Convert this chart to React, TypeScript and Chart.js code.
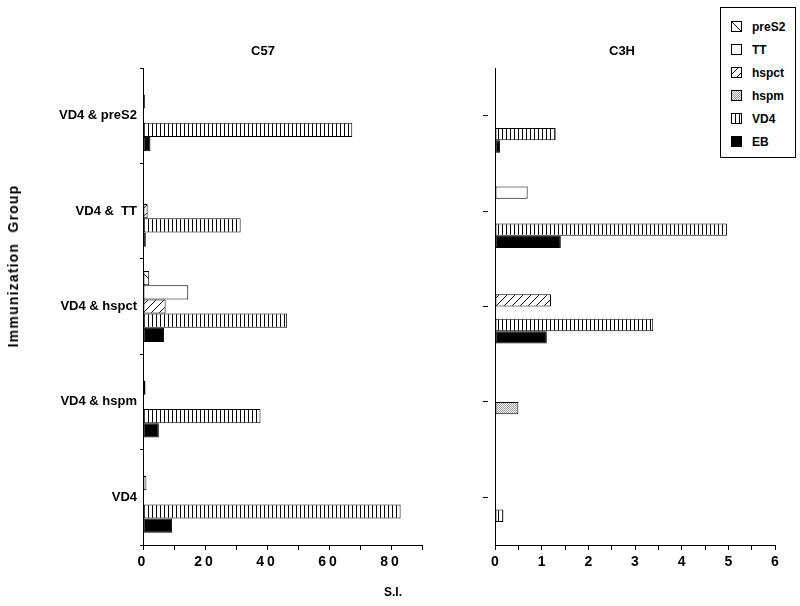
import React, { useEffect, useRef } from "react";
import { Chart, registerables } from "chart.js";
Chart.register(...registerables);

const categories = ["VD4 & preS2", "VD4 &  TT", "VD4 & hspct", "VD4 & hspm", "VD4"];
const seriesNames = ["preS2", "TT", "hspct", "hspm", "VD4", "EB"];

// C57 panel (S.I.)
const c57PreS2 = [null, 0.3, 2.0, null, null];
const c57TT = [0.6, 0.3, 14.6, 0.8, 1.1];
const c57Hspct = [null, 1.5, 7.3, null, null];
const c57VD4 = [67.5, 31.5, 46.5, 37.9, 83.1];
const c57EB = [2.4, 0.9, 6.8, 5.1, 9.4];

// C3H panel (S.I.)
const c3hPreS2 = [null, null, null, null, null];
const c3hTT = [null, 0.7, null, null, null];
const c3hHspct = [null, null, 1.2, null, null];
const c3hHspm = [null, null, null, 0.5, null];
const c3hVD4 = [1.3, 4.97, 3.39, null, 0.18];
const c3hEB = [0.11, 1.41, 1.11, null, null];

const c57Max = 90;
const c3hMax = 6;

const FONT = "'Liberation Sans', Arial, Helvetica, sans-serif";

function makeFill(kind: string, ctx: CanvasRenderingContext2D): any {
  if (kind === "TT") return "#ffffff";
  if (kind === "EB") return "#000000";
  const c = document.createElement("canvas");
  const g = c.getContext("2d")!;
  if (kind === "VD4") {
    c.width = 4; c.height = 4;
    g.fillStyle = "#fff"; g.fillRect(0, 0, 4, 4);
    g.fillStyle = "#000"; g.fillRect(0, 0, 1, 4);
  } else if (kind === "hspct") {
    c.width = 8; c.height = 8;
    g.fillStyle = "#fff"; g.fillRect(0, 0, 8, 8);
    g.strokeStyle = "#000"; g.lineWidth = 1;
    g.beginPath();
    g.moveTo(0, 8); g.lineTo(8, 0);
    g.moveTo(-1, 1); g.lineTo(1, -1);
    g.moveTo(7, 9); g.lineTo(9, 7);
    g.stroke();
  } else if (kind === "preS2") {
    c.width = 10; c.height = 10;
    g.fillStyle = "#fff"; g.fillRect(0, 0, 10, 10);
    g.strokeStyle = "#000"; g.lineWidth = 1;
    g.beginPath();
    g.moveTo(0, 0); g.lineTo(10, 10);
    g.moveTo(-1, 9); g.lineTo(1, 11);
    g.moveTo(9, -1); g.lineTo(11, 1);
    g.stroke();
  } else if (kind === "hspm") {
    c.width = 2; c.height = 2;
    g.fillStyle = "#fff"; g.fillRect(0, 0, 2, 2);
    g.fillStyle = "#9a9a9a"; g.fillRect(0, 0, 1, 1); g.fillRect(1, 1, 1, 1);
  }
  return ctx.createPattern(c, "repeat");
}

function ds(label: string, data: (number | null)[], ctx: CanvasRenderingContext2D) {
  return {
    label,
    data,
    backgroundColor: makeFill(label, ctx),
    borderColor: "#000",
    borderWidth: 1,
    borderSkipped: false,
    categoryPercentage: 1,
    barPercentage: 1,
  };
}

// letter-spaced x tick labels: x tick labels drawn after datasets (ticks.z: 1)
const spacingPlugin = {
  id: "tickSpacing",
  afterDatasetsDraw(chart: any) {
    chart.ctx.letterSpacing = "3px";
  },
  afterDraw(chart: any) {
    chart.ctx.letterSpacing = "0px";
  },
};

export default function App() {
  const leftRef = useRef<HTMLCanvasElement>(null);
  const rightRef = useRef<HTMLCanvasElement>(null);
  const swRefs = useRef<(HTMLCanvasElement | null)[]>([]);

  useEffect(() => {
    Chart.defaults.font.family = FONT;
    Chart.defaults.color = "#000";
    const lctx = leftRef.current!.getContext("2d")!;
    const rctx = rightRef.current!.getContext("2d")!;

    const left = new Chart(lctx, {
      type: "bar",
      data: {
        labels: categories,
        datasets: [
          ds("preS2", c57PreS2, lctx),
          ds("TT", c57TT, lctx),
          ds("hspct", c57Hspct, lctx),
          ds("VD4", c57VD4, lctx),
          ds("EB", c57EB, lctx),
        ].map((d) => ({ ...d, categoryPercentage: 0.745 })),
      },
      plugins: [spacingPlugin],
      options: {
        indexAxis: "y",
        responsive: false,
        animation: false,
        layout: { padding: { top: 68, right: 28, left: 0, bottom: 0 } },
        plugins: { legend: { display: false }, tooltip: { enabled: false } },
        scales: {
          x: {
            type: "linear",
            min: 0,
            max: c57Max,
            afterFit: (s: any) => { s.height = 61; },
            border: { display: true, color: "#000", width: 1 },
            grid: { drawOnChartArea: false, color: "#000", tickLength: 5 },
            ticks: {
              z: 1,
              stepSize: 10,
              autoSkip: false,
              maxRotation: 0,
              padding: 4,
              font: { size: 14, weight: "bold" },
              callback: (v: any) => (v % 20 === 0 && v < 90 ? String(v) : ""),
            },
          },
          y: {
            type: "category",
            afterFit: (s: any) => { s.width = 143; },
            border: { display: true, color: "#000", width: 1 },
            grid: { drawOnChartArea: false, color: "#000", tickLength: 3, offset: true },
            ticks: { padding: 3, font: { size: 13, weight: "bold" } },
          },
        },
      },
    } as any);

    const right = new Chart(rctx, {
      type: "bar",
      data: {
        labels: categories,
        datasets: [
          ds("preS2", c3hPreS2, rctx),
          ds("TT", c3hTT, rctx),
          ds("hspct", c3hHspct, rctx),
          ds("hspm", c3hHspm, rctx),
          ds("VD4", c3hVD4, rctx),
          ds("EB", c3hEB, rctx),
        ].map((d) => ({ ...d, categoryPercentage: 0.775 })),
      },
      options: {
        indexAxis: "y",
        responsive: false,
        animation: false,
        layout: { padding: { top: 68, right: 25, left: 0, bottom: 0 } },
        plugins: { legend: { display: false }, tooltip: { enabled: false } },
        scales: {
          x: {
            type: "linear",
            min: 0,
            max: c3hMax,
            afterFit: (s: any) => { s.height = 61; },
            border: { display: true, color: "#000", width: 1 },
            grid: { drawOnChartArea: false, color: "#000", tickLength: 5 },
            ticks: {
              stepSize: 0.5,
              autoSkip: false,
              maxRotation: 0,
              padding: 4,
              font: { size: 14, weight: "bold" },
              callback: (v: any) => (Number.isInteger(v) ? String(v) : ""),
            },
          },
          y: {
            type: "category",
            afterFit: (s: any) => { s.width = 45; },
            border: { display: true, color: "#000", width: 1 },
            grid: {
              drawOnChartArea: false,
              color: "#000",
              tickLength: 12,
              offset: false,
              tickBorderDash: [5, 100],
            },
            ticks: { display: true, callback: () => "" },
          },
        },
      },
    } as any);

    swRefs.current.forEach((c, i) => {
      if (!c) return;
      const g = c.getContext("2d")!;
      g.clearRect(0, 0, c.width, c.height);
      g.fillStyle = makeFill(seriesNames[i], g);
      g.fillRect(0, 0, c.width, c.height);
      g.strokeStyle = "#000";
      g.lineWidth = 1;
      g.strokeRect(0.5, 0.5, c.width - 1, c.height - 1);
    });

    return () => {
      left.destroy();
      right.destroy();
    };
  }, []);

  const textStyle: React.CSSProperties = {
    position: "absolute",
    fontFamily: FONT,
    fontWeight: "bold",
    color: "#000",
    whiteSpace: "pre",
    lineHeight: 1,
  };

  return (
    <div style={{ position: "absolute", left: 0, top: 0, width: 800, height: 606, background: "#fff", overflow: "hidden" }}>
      <canvas ref={leftRef} width={450} height={606} style={{ position: "absolute", left: 0, top: 0 }} />
      <canvas ref={rightRef} width={350} height={606} style={{ position: "absolute", left: 450, top: 0 }} />
      <div style={{ ...textStyle, left: 263, top: 44, fontSize: 13, transform: "translateX(-50%)" }}>C57</div>
      <div style={{ ...textStyle, left: 622, top: 44, fontSize: 13, transform: "translateX(-50%)" }}>C3H</div>
      <div style={{ ...textStyle, left: 393, top: 586, fontSize: 12, transform: "translateX(-50%)" }}>S.I.</div>
      <div
        style={{
          ...textStyle,
          left: 13,
          top: 266,
          fontSize: 14,
          letterSpacing: "1.2px",
          transform: "translate(-50%, -50%) rotate(-90deg)",
        }}
      >
        Immunization  Group
      </div>
      <div style={{ position: "absolute", left: 720, top: 7, width: 74, height: 149, border: "1px solid #000", background: "#fff" }}>
        {seriesNames.map((n, i) => (
          <div key={n} style={{ position: "absolute", left: 10, top: 13 + i * 23 }}>
            <canvas
              ref={(el) => { swRefs.current[i] = el; }}
              width={11}
              height={11}
              style={{ position: "absolute", left: 0, top: 0 }}
            />
            <div style={{ ...textStyle, left: 21, top: 0, fontSize: 12 }}>{n}</div>
          </div>
        ))}
      </div>
    </div>
  );
}
